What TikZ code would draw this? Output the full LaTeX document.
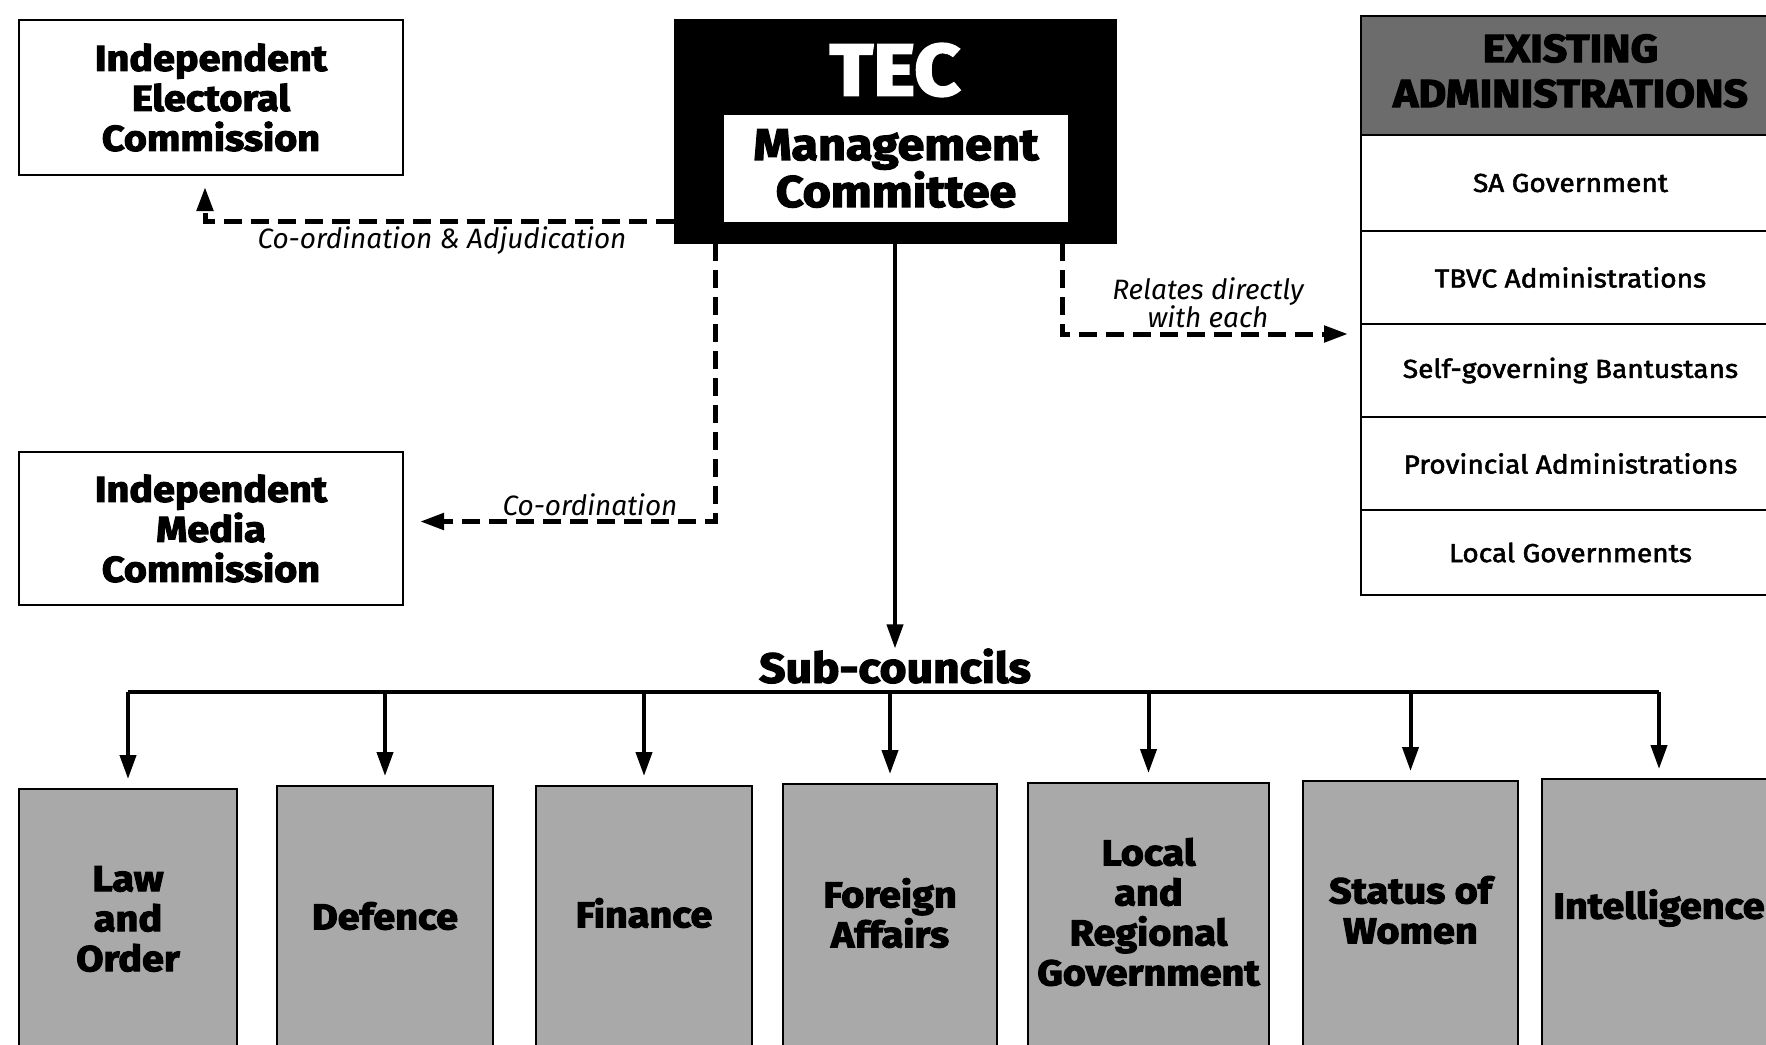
\documentclass[tikz,border=0pt]{standalone}
\usepackage{fontspec}
\setmainfont{Fira Sans}
\newfontfamily\heavy{Fira Sans}[BoldFeatures={FakeBold=3,FakeStretch=1.1}]
\newfontfamily\medfont{Fira Sans}[FakeBold=2,FakeStretch=1.08]
\usetikzlibrary{arrows.meta}
\definecolor{subgray}{HTML}{A9A9A9}
\definecolor{headgray}{HTML}{6C6C6C}
\tikzset{
  wbox/.style={draw, line width=2pt, fill=white, align=center, inner sep=0pt,
    font=\heavy\bfseries\fontsize{36}{40}\selectfont},
  tbl/.style={draw, line width=2pt, fill=white, align=center, inner sep=0pt, minimum width=419pt,
    font=\medfont\fontsize{26}{30}\selectfont},
  subbox/.style={draw, line width=2pt, fill=subgray, inner sep=0pt, anchor=north},
  subtxt/.style={align=center, inner sep=0pt, font=\heavy\bfseries\fontsize{36}{40}\selectfont},
  dline/.style={line width=5pt, dash pattern=on 18pt off 9pt},
  sline/.style={line width=4pt},
  tip/.style={-{Triangle[length=24pt,width=16pt]}},
  lbl/.style={font=\itshape\fontsize{28}{28}\selectfont, align=center, inner sep=0pt},
}
\begin{document}
\begin{tikzpicture}[x=1pt,y=-1pt]
\useasboundingbox[fill=white] (0,0) rectangle (1766,1044);
% top boxes
\node[wbox, minimum width=384pt, minimum height=155pt] (iec) at (211,97.5) {Independent\\Electoral\\Commission};
\node[wbox, minimum width=384pt, minimum height=153pt] (imc) at (211,528.5) {Independent\\Media\\Commission};
\node[draw, fill=black, minimum width=442pt, minimum height=224pt, inner sep=0pt] (tec) at (895,131) {};
\node[font=\heavy\bfseries\fontsize{73}{73}\selectfont, text=white, inner sep=0pt] (tect) at (895,70) {TEC};
\node[wbox, draw=none, minimum width=344pt, minimum height=107pt, font=\heavy\bfseries\fontsize{44}{47}\selectfont] (mc) at (896,168.5) {Management\\Committee};
% table
\node[tbl, fill=headgray, minimum height=119pt] (th) at (1570.5,75.5) {};
\node[align=center, inner sep=0pt, font=\heavy\bfseries\fontsize{39}{45}\selectfont] (tht) at (1570.5,71) {EXISTING\\ADMINISTRATIONS};
\node[tbl, minimum height=96pt] (t1) at (1570.5,183) {SA Government};
\node[tbl, minimum height=93pt] (t2) at (1570.5,277.5) {TBVC Administrations};
\node[tbl, minimum height=93pt] (t3) at (1570.5,370.5) {Self-governing Bantustans};
\node[tbl, minimum height=93pt] (t4) at (1570.5,463.5) {Provincial Administrations};
\node[tbl, minimum height=85pt] (t5) at (1570.5,552.5) {Local Governments};
% sub-councils
\node[font=\heavy\bfseries\fontsize{42}{44}\selectfont, inner sep=0pt] (sc) at (895,666) {Sub-councils};
\node[subbox, minimum width=218pt, minimum height=262pt] (law) at (128,788) {};
\node[subbox, minimum width=216pt, minimum height=265pt] (def) at (385,785) {};
\node[subbox, minimum width=216pt, minimum height=265pt] (fin) at (644,785) {};
\node[subbox, minimum width=214pt, minimum height=267pt] (for) at (890,783) {};
\node[subbox, minimum width=241pt, minimum height=268pt] (loc) at (1148.5,782) {};
\node[subbox, minimum width=215pt, minimum height=270pt] (sta) at (1410.5,780) {};
\node[subbox, minimum width=234pt, minimum height=272pt] (int) at (1659,778) {};
\node[subtxt] (lawt) at ([yshift=-131pt]law.north) {Law\\and\\Order};
\node[subtxt] (deft) at ([yshift=-131pt]def.north) {Defence};
\node[subtxt] (fint) at ([yshift=-128pt]fin.north) {Finance};
\node[subtxt] (fort) at ([yshift=-130pt]for.north) {Foreign\\Affairs};
\node[subtxt] (loct) at ([yshift=-130pt]loc.north) {Local\\and\\Regional\\Government};
\node[subtxt] (stat) at ([yshift=-130pt]sta.north) {Status of\\Women};
\node[subtxt] (intt) at ([yshift=-130pt]int.north) {Intelligence};
% connectors
\coordinate (busy) at (0,692);
\draw[sline, tip] (tec.south) -- (sc.north);
\draw[sline] (law.north |- busy) -- (int.north |- busy);
\foreach \b in {law,def,fin,for,loc,sta,int}
  \draw[sline, tip, shorten >=9pt] (\b.north |- busy) -- (\b.north);
% dashed connectors
\coordinate (c1) at (0,221);
\draw[dline, tip, shorten >=11pt] (tec.west |- c1) -| ([xshift=-6pt]iec.south);
\draw[dline, tip, shorten >=16pt] ([xshift=-180pt]tec.south) |- ([yshift=7pt]imc.east);
\draw[dline, tip, shorten >=12pt] ([xshift=167pt]tec.south) |- ([yshift=-9pt]t2.south west);
% labels
\node[lbl] (l1) at (442,241) {Co-ordination \& Adjudication};
\node[lbl] (l2) at (590,505) {Co-ordination};
\node[lbl] (l3) at (1208,303) {Relates directly\\with each};
\end{tikzpicture}
\end{document}
